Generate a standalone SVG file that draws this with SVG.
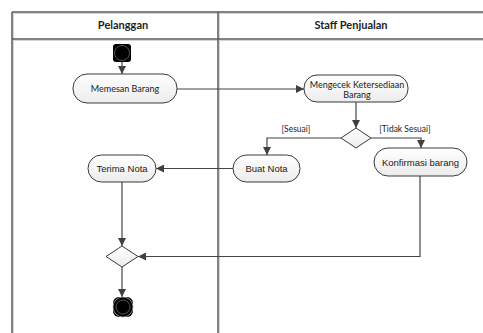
<svg xmlns="http://www.w3.org/2000/svg" width="483" height="333" viewBox="0 0 483 333">
  <defs>
    <linearGradient id="actFill" x1="0" y1="0" x2="0" y2="1">
      <stop offset="0" stop-color="#ffffff"/>
      <stop offset="1" stop-color="#ececec"/>
    </linearGradient>
    <marker id="arrow" viewBox="0 0 10 10" refX="10" refY="5" markerWidth="8" markerHeight="8" markerUnits="userSpaceOnUse" orient="auto">
      <path d="M0,0 L10,5 L0,10 z" fill="#404040"/>
    </marker>
  </defs>
  <style>
    .lane { stroke: #5a5a5a; stroke-width: 1.5; fill: none; }
    .lane-shade { stroke: #d4d4d4; stroke-width: 1; fill: none; }
    .act { fill: url(#actFill); stroke: #3a3a3a; stroke-width: 1; }
    .dec { fill: url(#actFill); stroke: #3a3a3a; stroke-width: 1; }
    .edge { fill: none; stroke: #454545; stroke-width: 1.2; marker-end: url(#arrow); }
    .hdr { font-family: Lato, "Open Sans", sans-serif; font-size: 11px; font-weight: bold; fill: #222; text-anchor: middle; }
    .lbl { font-family: Lato, "Open Sans", sans-serif; font-size: 9px; fill: #1a1a1a; text-anchor: middle; }
    .lbl-a { font-family: "Liberation Sans", Arial, sans-serif; font-size: 9.5px; fill: #1a1a1a; text-anchor: middle; }
    .guard { font-family: Lato, "Open Sans", sans-serif; font-size: 8.5px; fill: #1a1a1a; text-anchor: middle; }
  </style>

  <rect width="483" height="333" fill="#ffffff"/>

  <!-- swimlane frame -->
  <g id="swimlanes">
    <path class="lane-shade" d="M13.5,13.5 H483 M13.5,40.5 H483 M13.5,13.5 V333 M219.5,13.5 V333"/>
    <path class="lane" d="M12,12 H483 M12,39 H483 M12,12 V333 M218,12 V333"/>
    <text class="hdr" x="123" y="29">Pelanggan</text>
    <text class="hdr" x="351" y="29">Staff Penjualan</text>
  </g>

  <!-- connectors -->
  <g id="connectors">
    <path class="edge" d="M122,62 V74"/>
    <path class="edge" d="M177,89 H304"/>
    <path class="edge" d="M356,102 V128"/>
    <path class="edge" d="M341,138 H267 V155"/>
    <path class="edge" d="M371,138 H421 V148"/>
    <path class="edge" d="M233,168.5 H156"/>
    <path class="edge" d="M122,182 V246"/>
    <path class="edge" d="M420,176 V256.5 H138"/>
    <path class="edge" d="M122,267 V297"/>
    <text class="guard" x="296" y="132">[Sesuai]</text>
    <text class="guard" x="405" y="132">[Tidak Sesuai]</text>
  </g>

  <!-- start -->
  <g id="start">
    <rect x="113" y="44" width="18" height="18" rx="3" fill="#000"/>
    <circle cx="122" cy="53" r="7.5" fill="none" stroke="#555" stroke-width="1"/>
  </g>

  <g id="memesan-barang">
    <rect class="act" x="73" y="74" width="104" height="29" rx="14"/>
    <text class="lbl" x="125" y="92">Memesan Barang</text>
  </g>

  <g id="mengecek-ketersediaan">
    <rect class="act" x="304" y="75" width="104" height="27" rx="13"/>
    <text class="lbl" x="357" y="87.5">Mengecek Ketersediaan</text>
    <text class="lbl" x="357" y="97.5">Barang</text>
  </g>

  <g id="decision-stok">
    <path class="dec" d="M356,128 L371,138 L356,148 L341,138 Z"/>
  </g>

  <g id="buat-nota">
    <rect class="act" x="233" y="155" width="67" height="27" rx="13.5"/>
    <text class="lbl-a" x="266.5" y="172">Buat Nota</text>
  </g>

  <g id="konfirmasi-barang">
    <rect class="act" x="374" y="148" width="93" height="28" rx="14"/>
    <text class="lbl-a" x="420.5" y="165.5">Konfirmasi barang</text>
  </g>

  <g id="terima-nota">
    <rect class="act" x="88" y="155" width="68" height="27" rx="13.5"/>
    <text class="lbl-a" x="122" y="172">Terima Nota</text>
  </g>

  <g id="merge">
    <path class="dec" d="M122,246 L138,256.5 L122,267 L106,256.5 Z"/>
  </g>

  <!-- final -->
  <g id="final">
    <rect x="113" y="297" width="20" height="20" rx="6" fill="#000"/>
    <circle cx="123" cy="307" r="10" fill="none" stroke="#aaa" stroke-width="0.8"/>
    <circle cx="123" cy="307" r="7" fill="none" stroke="#555" stroke-width="1"/>
  </g>
</svg>
